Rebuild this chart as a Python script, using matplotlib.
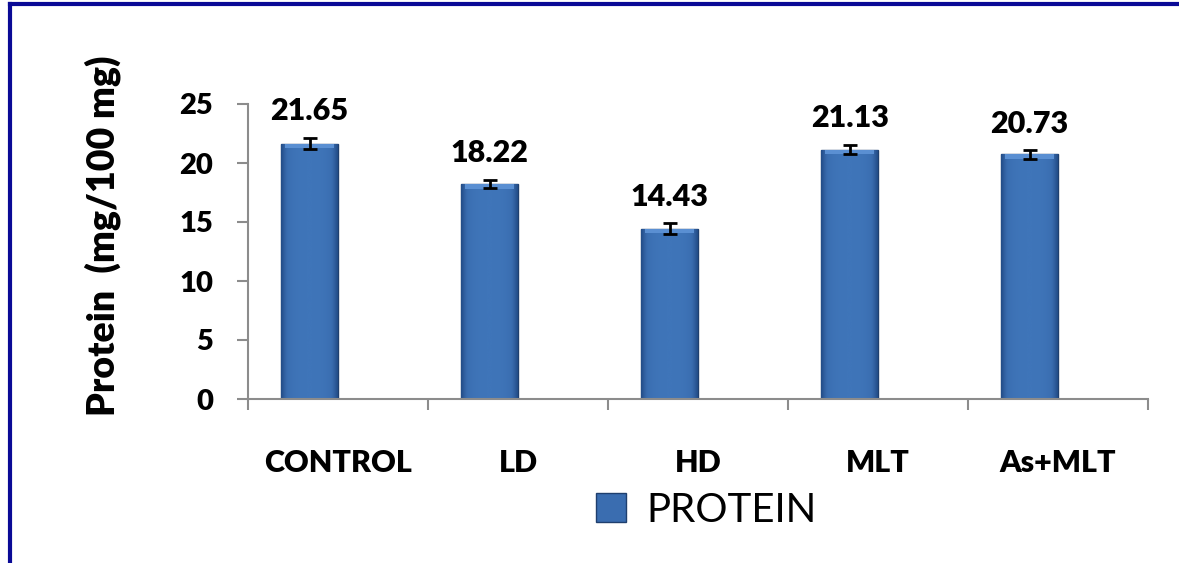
import numpy as np
import matplotlib.pyplot as plt
from matplotlib.patches import Rectangle
from matplotlib.lines import Line2D
from matplotlib.colors import LinearSegmentedColormap

groups = ["CONTROL", "LD", "HD", "MLT", "As+MLT"]
protein = [21.65, 18.22, 14.43, 21.13, 20.73]
errors = [0.50, 0.35, 0.45, 0.40, 0.35]
yticks = [0, 5, 10, 15, 20, 25]

plt.rcParams['font.family'] = ['Lato', 'DejaVu Sans']

W, H = 1179, 563
fig = plt.figure(figsize=(W / 100, H / 100), dpi=100)
ax = fig.add_axes([248 / W, 1 - 399 / H, 900 / W, 295 / H])

x = np.arange(len(groups))
bw = 0.315
bar_color = '#3A6DB0'
# bars sit left of centre (empty second series in the original)
bars = ax.bar(x - bw / 2, protein, width=bw, color=bar_color,
              edgecolor='#1f3f6e', linewidth=1.0, zorder=2)

# horizontal shading to mimic the bevelled bars
cmap = LinearSegmentedColormap.from_list('bev', ['#234d88', '#3a6db0', '#3f75b9'])
grad = np.linspace(0, 1, 64)
shade = 1 - (2 * np.abs(grad - 0.5)) ** 3
for b in bars:
    x0, y0 = b.get_x(), b.get_y()
    im = ax.imshow(shade[None, :], cmap=cmap, vmin=0, vmax=1,
                   extent=[x0, x0 + b.get_width(), y0, y0 + b.get_height()],
                   aspect='auto', zorder=2.1, interpolation='bicubic')
    im.set_clip_path(b)
    ax.add_patch(Rectangle((x0 + 0.02, y0 + b.get_height() - 0.4), b.get_width() - 0.04, 0.4,
                           color='#5a8fd2', zorder=2.2, lw=0))

ax.errorbar(x - bw / 2, protein, yerr=errors, fmt='none', ecolor='black',
            elinewidth=2, capsize=5, capthick=2, zorder=3)

for xi, v, e in zip(x - bw / 2, protein, errors):
    ax.annotate(f"{v:.2f}", (xi, v + e), xytext=(0, 9), textcoords='offset points',
                ha='center', va='bottom', fontsize=22, fontweight='heavy')

ax.set_xlim(-0.5, len(groups) - 0.5)
ax.set_ylim(0, 25)
ax.set_yticks(yticks)
ax.set_xticks(x)
ax.set_xticklabels(groups)
ax.set_xticks(np.arange(len(groups) + 1) - 0.5, minor=True)

for s in ['top', 'right']:
    ax.spines[s].set_visible(False)
for s in ['left', 'bottom']:
    ax.spines[s].set_color('#8c8c8c')
    ax.spines[s].set_linewidth(1.5)

ax.tick_params(axis='y', length=8, width=1.5, color='#8c8c8c', pad=17,
               labelsize=21)
ax.tick_params(axis='x', which='major', length=0, pad=36, labelsize=22)
ax.tick_params(axis='x', which='minor', length=8, width=1.5, color='#8c8c8c')
for lab in ax.get_xticklabels() + ax.get_yticklabels():
    lab.set_fontweight('heavy')

fig.text(103 / W, 1 - 236 / H, "Protein  (mg/100 mg)", rotation=90,
         ha='center', va='center', fontsize=27, fontweight='heavy')

handle = Rectangle((0, 0), 1, 1, facecolor=bar_color, edgecolor='#1f3f6e')
fig.legend([handle], ["PROTEIN"], loc='center', bbox_to_anchor=(706 / W, 1 - 510 / H),
           frameon=False, fontsize=29, handlelength=0.75, handleheight=0.75,
           handletextpad=0.5)

# dark blue frame (top and left visible)
fig.add_artist(Line2D([10 / W, 1], [1 - 4 / H, 1 - 4 / H], color='#0a0a96', lw=3))
fig.add_artist(Line2D([10 / W, 10 / W], [0, 1 - 4 / H], color='#0a0a96', lw=3))

fig.savefig('out.png', dpi=100)
